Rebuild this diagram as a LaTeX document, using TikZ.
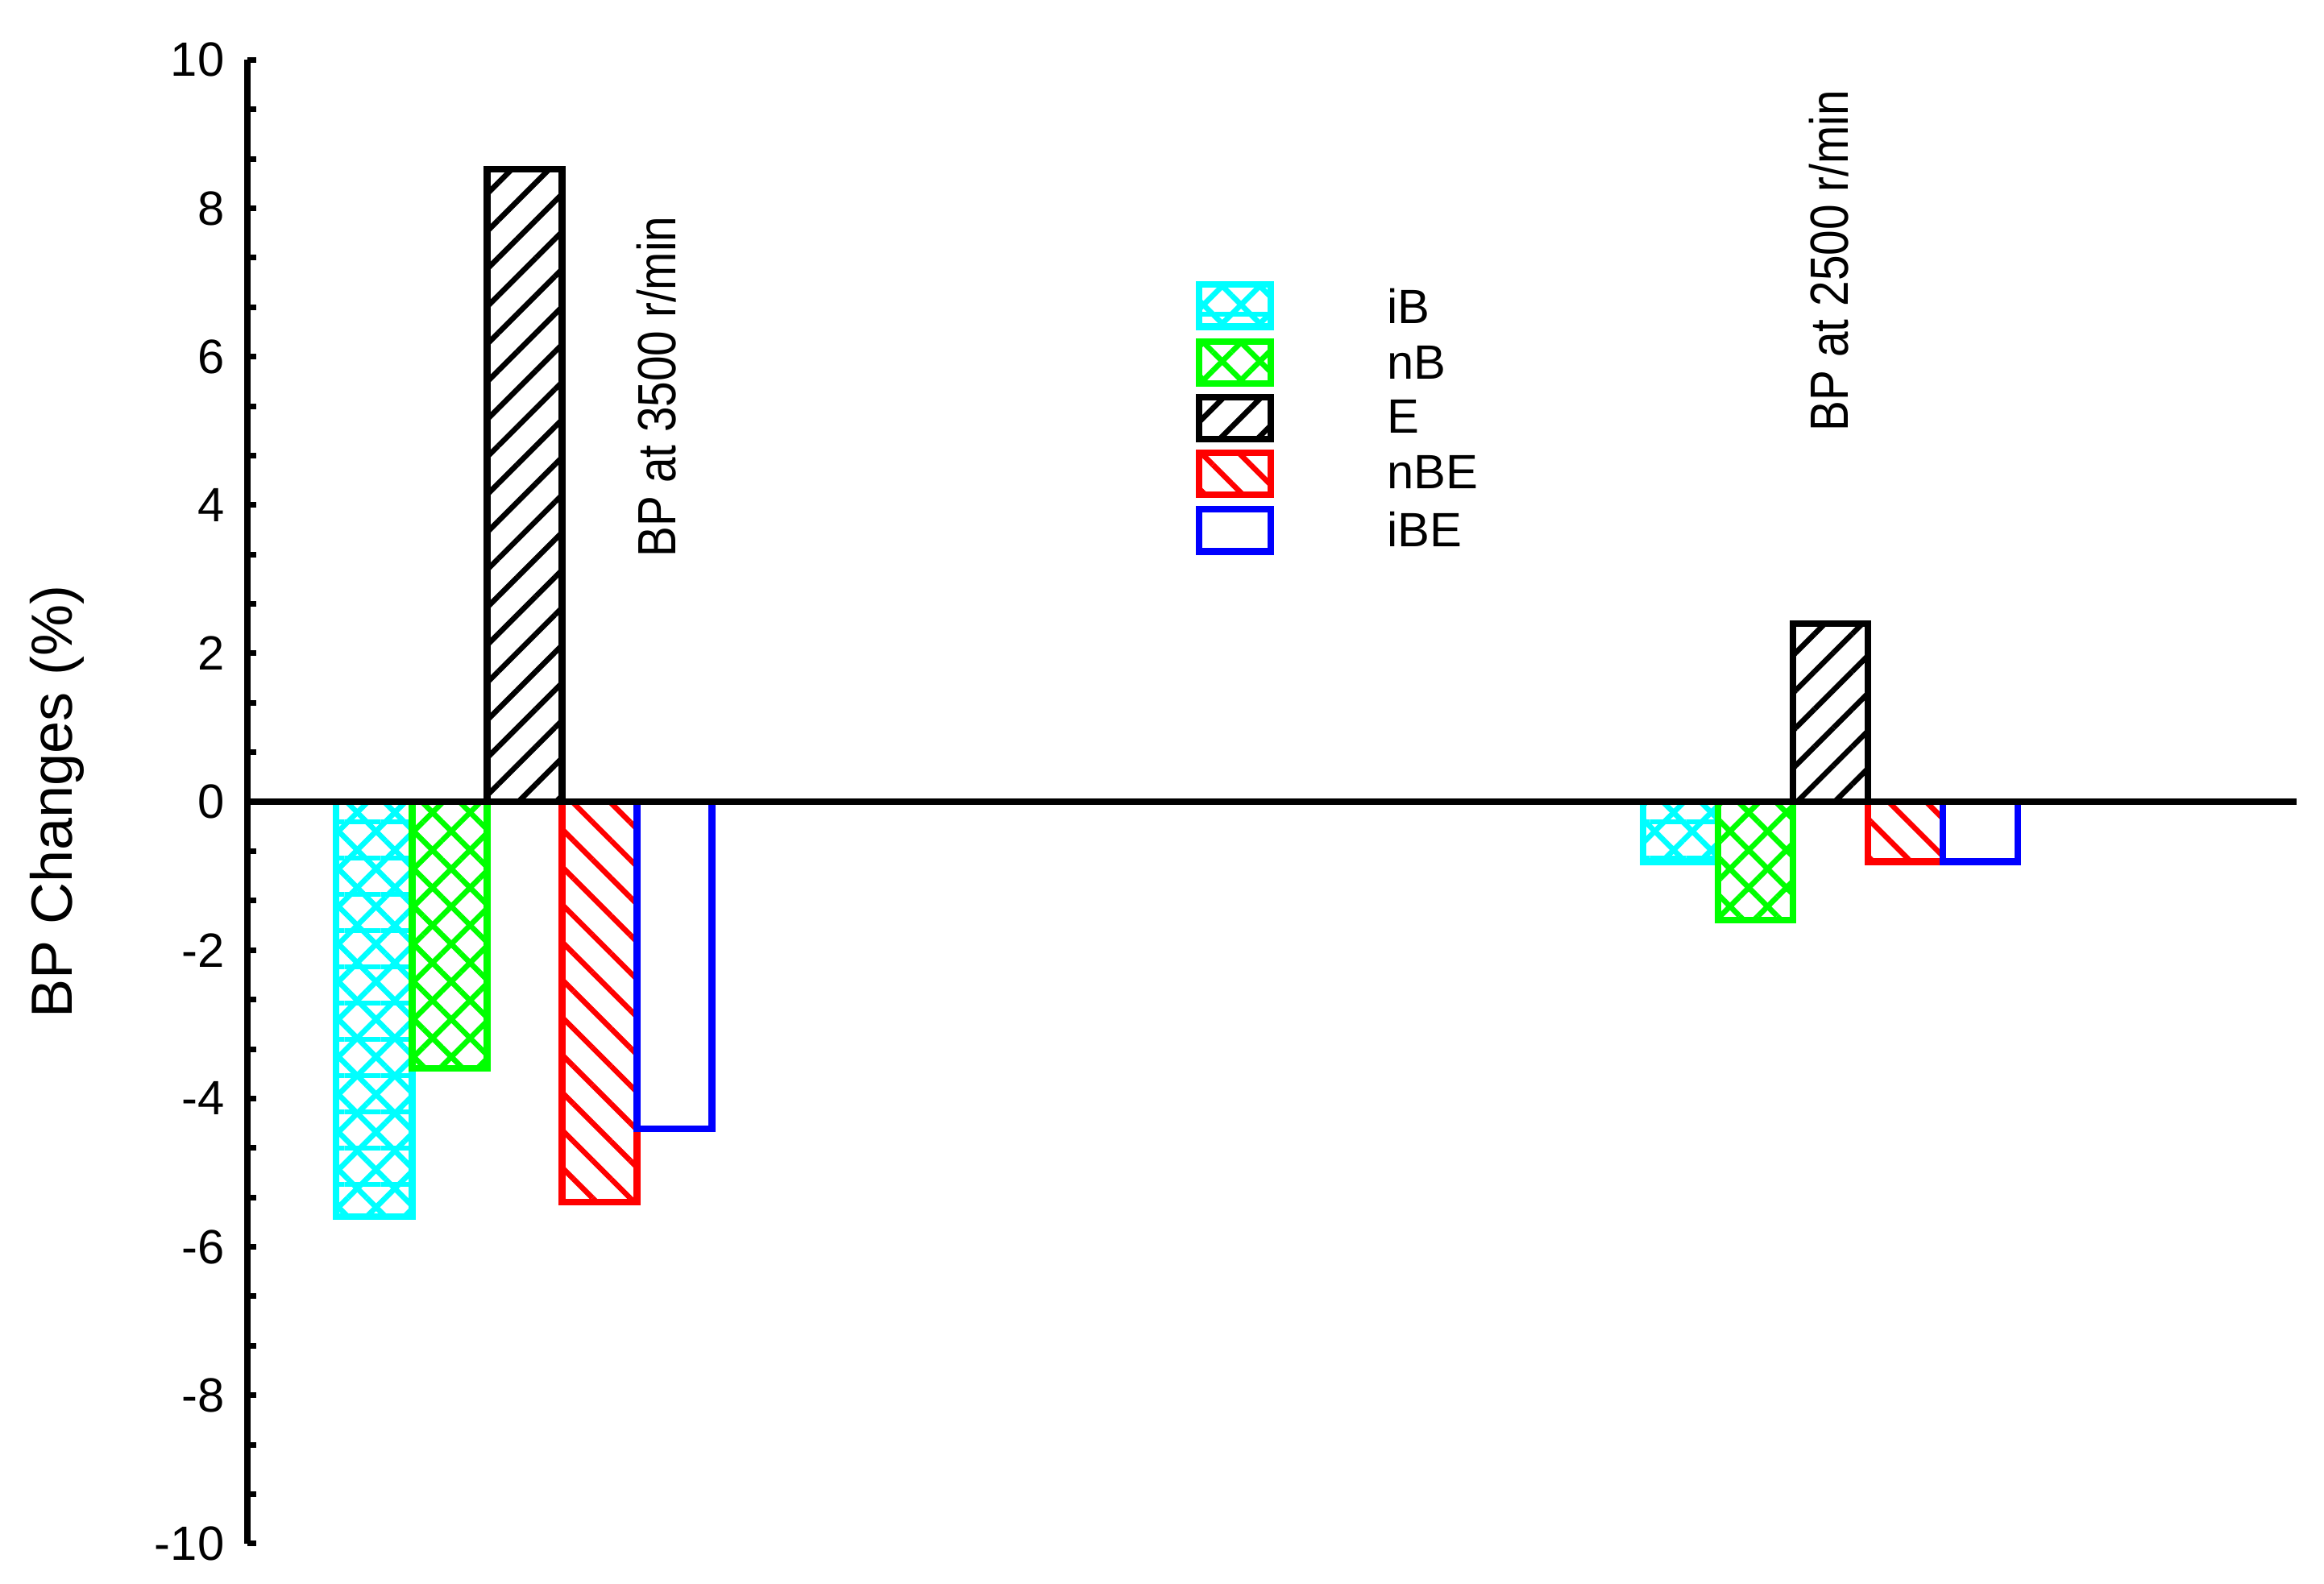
\documentclass[tikz,border=0pt]{standalone}
\usepackage{fontspec}
\setmainfont{Liberation Sans}
\usetikzlibrary{patterns.meta}
\definecolor{cy}{RGB}{0,255,255}
\definecolor{gr}{RGB}{0,255,0}
\definecolor{rd}{RGB}{255,0,0}
\definecolor{bl}{RGB}{0,0,255}
\begin{document}
\begin{tikzpicture}[x=0.0186cm,y=-0.0186cm,
  barline/.style={line width=2.3pt},
  hatchup/.style={pattern={Lines[angle=45,distance=0.33cm,line width=1.9pt]}},
  hatchdown/.style={pattern={Lines[angle=-45,distance=0.33cm,line width=1.9pt]}},
  hatchflat/.style={pattern={Lines[angle=0,distance=0.45cm,line width=1.9pt]}},
  ticklab/.style={anchor=east,font=\fontsize{17}{19}\selectfont,inner sep=0pt},
  legtxt/.style={anchor=west,font=\fontsize{17}{19}\selectfont,inner sep=0pt},
  rotlab/.style={rotate=90,font=\fontsize{19}{21}\selectfont,xscale=0.85}]
\useasboundingbox (0,0) rectangle (1550.5,1056.5);
\fill[white] (0,0) rectangle (1550.5,1056.5);
% axis
\draw[line width=2.3pt] (165,40) -- (165,1030);
\foreach \k in {0,...,30}{
  \draw[line width=2pt] (165,{40+\k*33}) -- (171,{40+\k*33});
}
\foreach \v [count=\i] in {10,8,6,4,2,0,-2,-4,-6,-8,-10}{
  \node[ticklab] (t\i) at (150,{535-49.5*\v}) {\v};
}
\node[rotate=90,font=\fontsize{20.5}{23}\selectfont] (ylab) at (38,535) {BP Changes (\%)};
\newcommand{\cyanbar}[3]{%
  \fill[hatchup,pattern color=cy] (#1,535) rectangle (#2,#3);
  \fill[hatchdown,pattern color=cy] (#1,535) rectangle (#2,#3);
  \fill[hatchflat,pattern color=cy] (#1,535) rectangle (#2,#3);
  \draw[barline,cy] (#1,535) rectangle (#2,#3);}
\newcommand{\greenbar}[3]{%
  \fill[hatchup,pattern color=gr] (#1,535) rectangle (#2,#3);
  \fill[hatchdown,pattern color=gr] (#1,535) rectangle (#2,#3);
  \draw[barline,gr] (#1,535) rectangle (#2,#3);}
\newcommand{\blackbar}[3]{%
  \fill[hatchup,pattern color=black] (#1,535) rectangle (#2,#3);
  \draw[barline,black] (#1,535) rectangle (#2,#3);}
\newcommand{\redbar}[3]{%
  \fill[hatchdown,pattern color=rd] (#1,535) rectangle (#2,#3);
  \draw[barline,rd] (#1,535) rectangle (#2,#3);}
\newcommand{\bluebar}[3]{%
  \draw[barline,bl] (#1,535) rectangle (#2,#3);}
% group 1
\cyanbar{224}{275}{812}
\greenbar{275}{325}{713}
\blackbar{325}{375}{113}
\redbar{375}{425}{802}
\bluebar{425}{475}{753}
% group 2
\cyanbar{1096}{1146}{575}
\greenbar{1146}{1196}{614}
\blackbar{1196}{1246}{416}
\redbar{1246}{1296}{575}
\bluebar{1296}{1346}{575}
% zero line
\draw[line width=2.3pt] (165,535) -- (1532,535);
% labels
\node[rotlab] (lab1) at (438,258) {BP at 3500 r/min};
\node[rotlab] (lab2) at (1220,174) {BP at 2500 r/min};
% legend
\fill[hatchup,pattern color=cy] (800,190) rectangle (848,218);
\fill[hatchdown,pattern color=cy] (800,190) rectangle (848,218);
\fill[hatchflat,pattern color=cy] (800,190) rectangle (848,218);
\draw[barline,cy] (800,190) rectangle (848,218);
\fill[hatchup,pattern color=gr] (800,228) rectangle (848,256);
\fill[hatchdown,pattern color=gr] (800,228) rectangle (848,256);
\draw[barline,gr] (800,228) rectangle (848,256);
\fill[hatchup,pattern color=black] (800,265) rectangle (848,293);
\draw[barline,black] (800,265) rectangle (848,293);
\fill[hatchdown,pattern color=rd] (800,302) rectangle (848,330);
\draw[barline,rd] (800,302) rectangle (848,330);
\draw[barline,bl] (800,340) rectangle (848,368);
\node[legtxt] (l1) at (925,204) {iB};
\node[legtxt] (l2) at (925,242) {nB};
\node[legtxt] (l3) at (925,278) {E};
\node[legtxt] (l4) at (925,315) {nBE};
\node[legtxt] (l5) at (925,353) {iBE};
\end{tikzpicture}
\end{document}
